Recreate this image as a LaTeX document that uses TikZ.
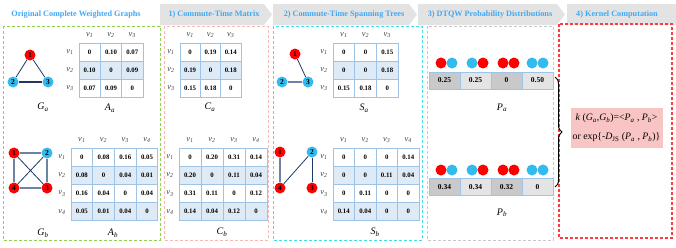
\documentclass[tikz,border=0pt]{standalone}
\usepackage{fontspec}
\setmainfont{Liberation Serif}
\usetikzlibrary{decorations.pathreplacing}
\definecolor{hdrblue}{HTML}{3FA9F5}
\definecolor{arrowgray}{HTML}{E3E3E3}
\definecolor{cellline}{HTML}{9DC3E6}
\definecolor{rowblue}{HTML}{DEEBF7}
\definecolor{gnavy}{HTML}{1F3864}
\definecolor{gslate}{HTML}{6F82A6}
\definecolor{nred}{HTML}{FF0000}
\definecolor{nblue}{HTML}{33BBEE}
\definecolor{bgreen}{HTML}{92D050}
\definecolor{bpink}{HTML}{F8B8B8}
\definecolor{bcyan}{HTML}{3EE0EE}
\definecolor{bgray}{HTML}{C8C8C8}
\definecolor{bred}{HTML}{FF3B3B}
\definecolor{pdark}{HTML}{C9C9C9}
\definecolor{plight}{HTML}{E4E4E4}
\definecolor{kpink}{HTML}{F8C4C4}
\definecolor{vgray}{HTML}{404040}
\newcommand{\vlab}[1]{\textit{v}\textsubscript{\textit{#1}}}
\newcommand{\drawmat}[7]{%
  \foreach \rr [count=\i] in {#7} {%
    \foreach \vv [count=\j] in \rr {%
      \ifodd\i\def\cellfill{white}\else\def\cellfill{rowblue}\fi
      \node[cellbox, fill=\cellfill, minimum width=#4pt, minimum height=#5pt] (#1-\i-\j) at ({#2+(\j-0.5)*#4},{#3+(\i-0.5)*#5}) {\vv};
    }%
  }%
  \foreach \k in {1,...,#6} {%
    \node[vlabel] (#1-c\k) at ({#2+(\k-0.5)*#4},{#3-8}) {\vlab{\k}};
    \node[vlabel] (#1-r\k) at ({#2-9},{#3+(\k-0.5)*#5}) {\vlab{\k}};
  }%
}
\begin{document}
\begin{tikzpicture}[x=1pt,y=-1pt,
  hdr/.style={font=\bfseries\fontsize{8.2}{9}\selectfont, text=hdrblue, inner sep=0},
  cellbox/.style={draw=cellline, line width=0.7pt, inner sep=0, font=\bfseries\fontsize{6.8}{7}\selectfont},
  vlabel/.style={font=\itshape\fontsize{8.5}{9}\selectfont, text=vgray, inner sep=0},
  glabel/.style={font=\itshape\fontsize{10}{10}\selectfont, inner sep=0},
  gnode/.style={circle, minimum size=11pt, inner sep=0, font=\bfseries\fontsize{7.5}{8}\selectfont},
  rnode/.style={gnode, fill=nred},
  bnode/.style={gnode, fill=nblue},
  thinedge/.style={draw=gnavy, line width=0.8pt},
  thickedge/.style={draw=gslate, line width=1.5pt},
  dbox/.style={dash pattern=on 3pt off 2pt, line width=1pt},
  pcell/.style={draw=cellline, line width=0.7pt, minimum width=31pt, minimum height=17pt, inner sep=0, font=\bfseries\fontsize{7.5}{8}\selectfont},
  pdot/.style={circle, minimum size=11pt, inner sep=0}
]
\useasboundingbox (0,0) rectangle (676,247);
\fill[white] (0,0) rectangle (676,247);

% header arrows
\fill[arrowgray] (160,4) -- (264,4) -- (272,14.5) -- (264,25) -- (160,25) -- cycle;
\fill[arrowgray] (273,4) -- (409,4) -- (417,14.5) -- (409,25) -- (273,25) -- cycle;
\fill[arrowgray] (418,4) -- (557,4) -- (565,14.5) -- (557,25) -- (418,25) -- cycle;
\fill[arrowgray] (567,4) -- (676,4) -- (676,25) -- (567,25) -- cycle;
\node[hdr] (t0) at (76,15) {Original Complete Weighted Graphs};
\node[hdr] (t1) at (214,14.5) {1) Commute-Time Matrix};
\node[hdr] (t2) at (344,14.5) {2) Commute-Time Spanning Trees};
\node[hdr] (t3) at (490,14.5) {3) DTQW Probability Distributions};
\node[hdr] (t4) at (617,14.5) {4) Kernel Computation};

% dashed panels
\draw[dbox, bgreen] (3,26) rectangle (160,240);
\draw[dbox, bpink] (164,26) rectangle (268,240);
\draw[dbox, bcyan] (273,26) rectangle (422,240);
\draw[dbox, bgray] (427,26) rectangle (553,240);
\draw[dbox, bred, line width=1.2pt] (559,24) rectangle (672,238);

% G_a
\node[rnode] (ga1) at (30,55) {1};
\node[bnode] (ga2) at (13,82) {2};
\node[bnode] (ga3) at (48,82) {3};
\draw[thinedge] (ga1) -- (ga2);
\draw[thinedge] (ga1) -- (ga3);
\draw[thinedge, line width=1.1pt] (ga2) -- (ga3);
\node[glabel] (Ga) at (43,107) {G\textsubscript{a}};

% G_b
\node[rnode] (gb1) at (14,153) {1};
\node[bnode] (gb2) at (47,153) {2};
\node[rnode] (gb3) at (47,188) {3};
\node[rnode] (gb4) at (14,188) {4};
\draw[thickedge] (gb1) -- (gb2);
\draw[thickedge] (gb2) -- (gb3);
\draw[thickedge] (gb3) -- (gb4);
\draw[thickedge] (gb4) -- (gb1);
\draw[thinedge] (gb1) -- (gb3);
\draw[thinedge] (gb2) -- (gb4);
\node[glabel] (Gb) at (43,233) {G\textsubscript{b}};

% S_a tree
\node[rnode] (sa1) at (295,54) {1};
\node[bnode] (sa2) at (282,82) {2};
\node[bnode] (sa3) at (308,82) {3};
\draw[thinedge] (sa1) -- (sa3);
\draw[thickedge] (sa2) -- (sa3);

% S_b tree
\node[rnode] (sb1) at (280,152) {1};
\node[bnode] (sb2) at (312,152) {2};
\node[rnode] (sb3) at (312,188) {3};
\node[rnode] (sb4) at (280,188) {4};
\draw[thickedge] (sb1) -- (sb4);
\draw[thinedge] (sb4) -- (sb2);
\draw[thinedge] (sb2) -- (sb3);

% matrices
\drawmat{Aa}{79}{43}{21.3}{18}{3}{{0,0.10,0.07},{0.10,0,0.09},{0.07,0.09,0}}
\drawmat{Ca}{180}{43}{20.3}{18}{3}{{0,0.19,0.14},{0.19,0,0.18},{0.15,0.18,0}}
\drawmat{Sa}{333}{43}{21.7}{18}{3}{{0,0,0.15},{0,0,0.18},{0.15,0.18,0}}
\drawmat{Ab}{71}{148}{21.7}{18.2}{4}{{0,0.08,0.16,0.05},{0.08,0,0.04,0.01},{0.16,0.04,0,0.04},{0.05,0.01,0.04,0}}
\drawmat{Cb}{179}{148}{22}{18.2}{4}{{0,0.20,0.31,0.14},{0.20,0,0.11,0.04},{0.31,0.11,0,0.12},{0.14,0.04,0.12,0}}
\drawmat{Sb}{333}{148}{21.5}{18.2}{4}{{0,0,0,0.14},{0,0,0.11,0.04},{0,0.11,0,0},{0.14,0.04,0,0}}
\node[glabel] (Aalab) at (110,108) {A\textsubscript{a}};
\node[glabel] (Calab) at (210,107) {C\textsubscript{a}};
\node[glabel] (Salab) at (364,108) {S\textsubscript{a}};
\node[glabel] (Ablab) at (113,233) {A\textsubscript{b}};
\node[glabel] (Cblab) at (222,232) {C\textsubscript{b}};
\node[glabel] (Sblab) at (375,232) {S\textsubscript{b}};

% P_a
\node[pcell, fill=pdark] (pa1) at (444.5,80.5) {0.25};
\node[pcell, fill=plight] (pa2) at (475.5,80.5) {0.25};
\node[pcell, fill=pdark] (pa3) at (506.5,80.5) {0};
\node[pcell, fill=plight] (pa4) at (537.5,80.5) {0.50};
\node[pdot, fill=nred] (pa1l) at (441,63) {};
\node[pdot, fill=nblue] (pa1r) at (452,63) {};
\node[pdot, fill=nblue] (pa2l) at (472,63) {};
\node[pdot, fill=nred] (pa2r) at (483,63) {};
\node[pdot, fill=nred] (pa3l) at (503,63) {};
\node[pdot, fill=nred] (pa3r) at (514,63) {};
\node[pdot, fill=nblue] (pa4l) at (532,63) {};
\node[pdot, fill=nblue] (pa4r) at (543,63) {};
\node[glabel] (Palab) at (502,108) {P\textsubscript{a}};

% P_b
\node[pcell, fill=pdark] (pb1) at (444.5,187) {0.34};
\node[pcell, fill=plight] (pb2) at (475.5,187) {0.34};
\node[pcell, fill=pdark] (pb3) at (506.5,187) {0.32};
\node[pcell, fill=plight] (pb4) at (537.5,187) {0};
\node[pdot, fill=nred] (pb1l) at (441,170) {};
\node[pdot, fill=nblue] (pb1r) at (452,170) {};
\node[pdot, fill=nblue] (pb2l) at (472,170) {};
\node[pdot, fill=nred] (pb2r) at (483,170) {};
\node[pdot, fill=nred] (pb3l) at (503,170) {};
\node[pdot, fill=nred] (pb3r) at (514,170) {};
\node[pdot, fill=nblue] (pb4l) at (532,170) {};
\node[pdot, fill=nblue] (pb4r) at (543,170) {};
\node[glabel] (Pblab) at (502,213) {P\textsubscript{b}};

% brace
\coordinate (brtop) at (555,77);
\coordinate (brbot) at (555,187);
\draw[line width=1pt, decorate, decoration={brace, amplitude=7pt}] (brtop) -- (brbot);

% kernel
\node[fill=kpink, minimum width=92pt, minimum height=40pt, align=center, inner sep=1pt,
      font=\fontsize{9.8}{19}\selectfont] (kern) at (616.5,128)
  {\textit{k} (\textit{G}\textsubscript{\textit{a}},\textit{G}\textsubscript{\textit{b}})=<\textit{P}\textsubscript{\textit{a}} , \textit{P}\textsubscript{\textit{b}}>\\
   or exp\{-\textit{D}\textsubscript{JS} (\textit{P}\textsubscript{\textit{a}} , \textit{P}\textsubscript{\textit{b}})\}};
\end{tikzpicture}
\end{document}
